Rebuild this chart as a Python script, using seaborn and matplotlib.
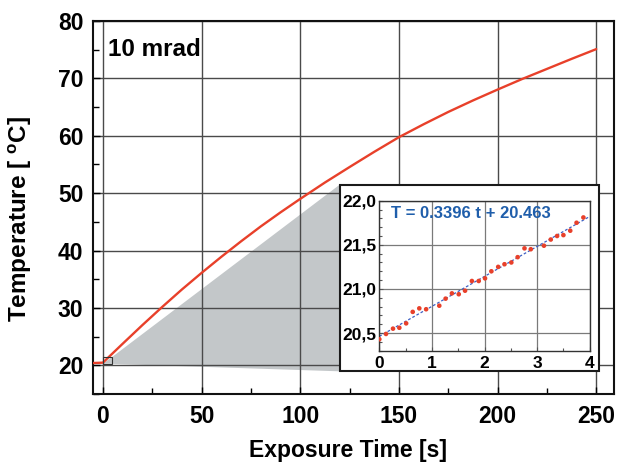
import numpy as np
import pandas as pd
import seaborn as sns
import matplotlib.pyplot as plt
from matplotlib.patches import Rectangle, Polygon
from matplotlib.ticker import MultipleLocator

# main heating curve
curve_t = [-5, 0, 10, 20, 30, 40, 50, 60, 70, 80, 90, 100, 112.5, 125,
           137.5, 150, 162.5, 175, 187.5, 200, 212.5, 225, 237.5, 250]
curve_T = [20.4, 20.46, 23.75, 27.0, 30.15, 33.2, 36.1, 38.9, 41.6, 44.2,
           46.65, 49.0, 51.85, 54.55, 57.2, 59.75, 62.0, 64.15, 66.15,
           68.05, 69.9, 71.65, 73.4, 75.1]

# inset: first seconds of exposure
inset_t = [0.0, 0.127, 0.26, 0.38, 0.51, 0.635, 0.76, 0.89, 1.14, 1.26,
           1.38, 1.51, 1.63, 1.76, 1.89, 2.01, 2.13, 2.26, 2.38, 2.51,
           2.63, 2.76, 2.88, 3.13, 3.26, 3.38, 3.50, 3.63, 3.75, 3.88]
inset_T = [20.43, 20.49, 20.55, 20.56, 20.61, 20.74, 20.78, 20.77, 20.81,
           20.89, 20.95, 20.94, 20.98, 21.09, 21.09, 21.12, 21.20, 21.25,
           21.28, 21.30, 21.36, 21.46, 21.45, 21.49, 21.56, 21.60, 21.61,
           21.66, 21.75, 21.81]
fit_t = [0, 4]
fit_T = [20.463, 21.821]
fit_text = 'T = 0.3396 t + 20.463'

main_xticks = [0, 50, 100, 150, 200, 250]
main_yticks = [20, 30, 40, 50, 60, 70, 80]
inset_xticks = [0, 1, 2, 3, 4]
inset_yticks = [20.5, 21.0, 21.5, 22.0]
inset_ytick_labels = ['20,5', '21,0', '21,5', '22,0']

red = '#e8402a'
blue = '#1f5eab'

sns.set_style('ticks')
plt.rcParams['font.family'] = ['Liberation Sans', 'DejaVu Sans']
plt.rcParams['font.weight'] = 'bold'
plt.rcParams['mathtext.fontset'] = 'custom'
plt.rcParams['mathtext.rm'] = 'Liberation Sans:bold'
plt.rcParams['mathtext.bf'] = 'Liberation Sans:bold'
for key in ['text.color', 'axes.labelcolor', 'xtick.color', 'ytick.color']:
    plt.rcParams[key] = 'black'

fig = plt.figure(figsize=(6.18, 4.62), dpi=100)
ax = fig.add_axes([0.1505, 0.1472, 0.843, 0.8073])

sns.lineplot(x=curve_t, y=curve_T, ax=ax, color=red, lw=1.7,
             sort=False, estimator=None, zorder=3)

ax.set_xlim(-5, 259)
ax.set_ylim(15, 80)
ax.set_xticks(main_xticks)
ax.set_yticks(main_yticks)
ax.xaxis.set_minor_locator(MultipleLocator(25))
ax.yaxis.set_minor_locator(MultipleLocator(5))
ax.tick_params(which='both', direction='in', labelsize=16.5, width=1)
ax.tick_params(which='major', length=5)
ax.tick_params(which='minor', length=4)
ax.tick_params(axis='x', pad=8)
ax.tick_params(axis='y', pad=7)
for lab in ax.get_xticklabels() + ax.get_yticklabels():
    lab.set_fontweight('bold')
ax.set_axisbelow(True)
ax.grid(True, which='major', color='#4a4a4a', lw=1)
for sp in ax.spines.values():
    sp.set_linewidth(1.5)
    sp.set_color('#111111')

ax.set_xlabel('Exposure Time [s]', fontsize=16.5, fontweight='bold')
ax.set_ylabel(r'Temperature [ $^{\mathrm{o}}$C]', fontsize=17.5,
              fontweight='bold')
ax.xaxis.set_label_coords(0.489, -0.122)
ax.yaxis.set_label_coords(-0.113, 0.47)

ax.text(0.028, 0.955, '10 mrad', transform=ax.transAxes, fontsize=17.5,
        fontweight='bold', va='top', ha='left')

# zoom marker + connector to the inset
ax.add_patch(Rectangle((0, 20.3), 4.5, 1.1, fill=False, ec='#333333',
                       lw=0.8, zorder=3))
ax.add_patch(Polygon([(4.5, 21.4), (120.1, 51.5), (120.1, 18.95),
                      (0, 20.3)], closed=True, fc='#c3c7c9', ec='none',
                     zorder=0.2))
ax.add_patch(Rectangle((120.1, 18.95), 131.2, 32.55, fc='white',
                       ec='#1a1a1a', lw=1.5, zorder=5))

# inset
ins = fig.add_axes([0.6138, 0.2409, 0.3404, 0.3247])
ins.set_facecolor('white')
sns.lineplot(x=fit_t, y=fit_T, ax=ins, color='#3d5fc4', lw=0.9,
             dashes=False, linestyle=(0, (2.2, 1.6)), zorder=2)
sns.scatterplot(x=inset_t, y=inset_T, ax=ins, color=red, s=11,
                edgecolor='none', zorder=3)
ins.set_xlim(0, 4)
ins.set_ylim(20.3, 22.0)
ins.set_xticks(inset_xticks)
ins.set_yticks(inset_yticks)
ins.set_yticklabels(inset_ytick_labels)
ins.xaxis.set_minor_locator(MultipleLocator(0.5))
ins.yaxis.set_minor_locator(MultipleLocator(0.1))
ins.tick_params(which='both', direction='in', labelsize=12.5, width=0.8,
                color='#555555', labelcolor='black')
ins.tick_params(which='major', length=3)
ins.tick_params(which='minor', length=2)
ins.tick_params(axis='x', pad=4)
ins.tick_params(axis='y', pad=2)
for lab in ins.get_xticklabels() + ins.get_yticklabels():
    lab.set_fontweight('bold')
ins.set_axisbelow(True)
ins.grid(True, which='major', color='#7a7a7a', lw=0.9)
for sp in ins.spines.values():
    sp.set_linewidth(1)
    sp.set_color('#333333')
ins.text(0.056, 0.916, fit_text, transform=ins.transAxes, color=blue,
         fontsize=12, fontweight='bold', va='center', ha='left')

fig.savefig('out.png', dpi=100)
